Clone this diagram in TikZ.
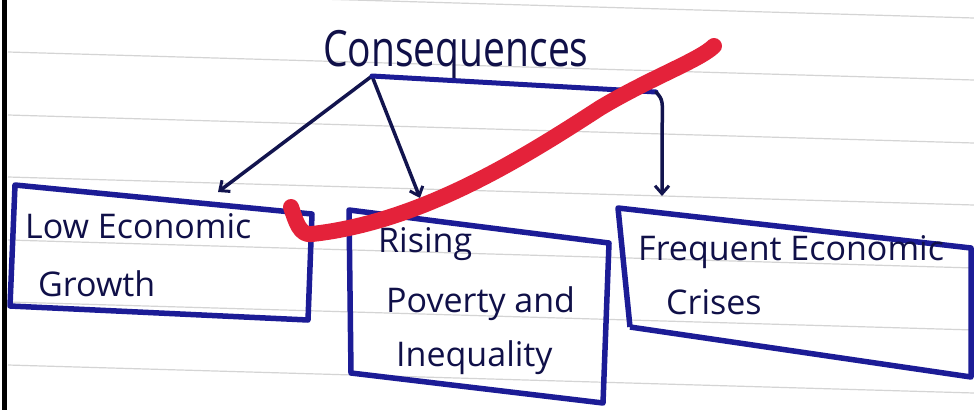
\documentclass[tikz,border=0pt]{standalone}
\usepackage{fontspec}
\setmainfont{Open Sans}
\usetikzlibrary{arrows.meta}
\definecolor{boxblue}{RGB}{28,28,150}
\definecolor{ink}{RGB}{16,16,72}
\definecolor{arrowink}{RGB}{18,20,78}
\definecolor{redmark}{RGB}{228,34,58}
\definecolor{ruleline}{RGB}{212,212,212}
\tikzset{
  boxline/.style={draw=boxblue, line width=5.5pt, line join=round},
  conn/.style={draw=arrowink, line width=3.5pt, line cap=round, -{Straight Barb[length=8pt,width=14pt,line width=3pt]}},
  bar/.style={draw=boxblue, line width=5pt, line cap=round},
  handtext/.style={anchor=base west, inner sep=0pt, text=ink, font=\fontsize{34}{40}\selectfont},
  titletext/.style={anchor=base west, inner sep=0pt, text=ink, font=\fontsize{50}{54}\selectfont},
  paperrule/.style={draw=ruleline, line width=1.2pt},
  redstroke/.style={draw=redmark, line width=16pt, line cap=round, line join=round}
}
\begin{document}
\begin{tikzpicture}[x=1pt, y=-1pt]
\useasboundingbox (0,0) rectangle (974,410);
\fill[white] (0,0) rectangle (974,410);
% ruled paper
\foreach \yy in {-10,52,115,177,240,302,365} {
  \draw[paperrule] (8,\yy) -- (974,\yy+28);
}
\draw[black, line width=5pt] (4,0) -- (4,410);

% title
\node[titletext] (title) at (323,66) {\scalebox{0.78}[1]{Consequences}};
\coordinate (hub) at (372,76);
\coordinate (barend) at (656,92);

% boxes (hand drawn quadrilaterals)
\coordinate (b1a) at (15,185); \coordinate (b1b) at (312,214);
\coordinate (b1c) at (308,320); \coordinate (b1d) at (10,306);
\draw[boxline] (b1a) -- (b1b) -- (b1c) -- (b1d) -- cycle;

\coordinate (b2a) at (349,210); \coordinate (b2b) at (609,243);
\coordinate (b2c) at (603,403); \coordinate (b2d) at (351,373);
\draw[boxline] (b2a) -- (b2b) -- (b2c) -- (b2d) -- cycle;

\coordinate (b3a) at (618,208); \coordinate (b3b) at (971,248);
\coordinate (b3c) at (971,377); \coordinate (b3d) at (630,327);
\draw[boxline] (b3d) -- (b3a) -- (b3b) -- (b3c) -- (b3d);

% box texts
\node[handtext] (t1a) at (25,238) {Low Economic};
\node[handtext] (t1b) at (38,296) {Growth};
\node[handtext] (t2a) at (378,252) {Rising};
\node[handtext] (t2b) at (386,312) {Poverty and};
\node[handtext] (t2c) at (396,366) {Inequality};
\node[handtext] (t3a) at (638,260) {Frequent Economic};
\node[handtext] (t3b) at (666,314) {Crises};

% connectors
\coordinate (e1) at (218,192);
\coordinate (e2) at (420,198);
\coordinate (e3) at (662,196);
\draw[conn] (hub) -- (e1);
\draw[conn] (hub) -- (e2);
\draw[bar] (hub) -- (barend);
\draw[conn] (barend) .. controls (663,100) .. (662,130) -- (e3);

% red check mark stroke
\draw[redstroke] (291,207) .. controls (296,222) and (300,236) .. (312,234)
  .. controls (420,222) and (520,160) .. (600,108)
  .. controls (650,78) and (700,60) .. (714,46);
\end{tikzpicture}
\end{document}
